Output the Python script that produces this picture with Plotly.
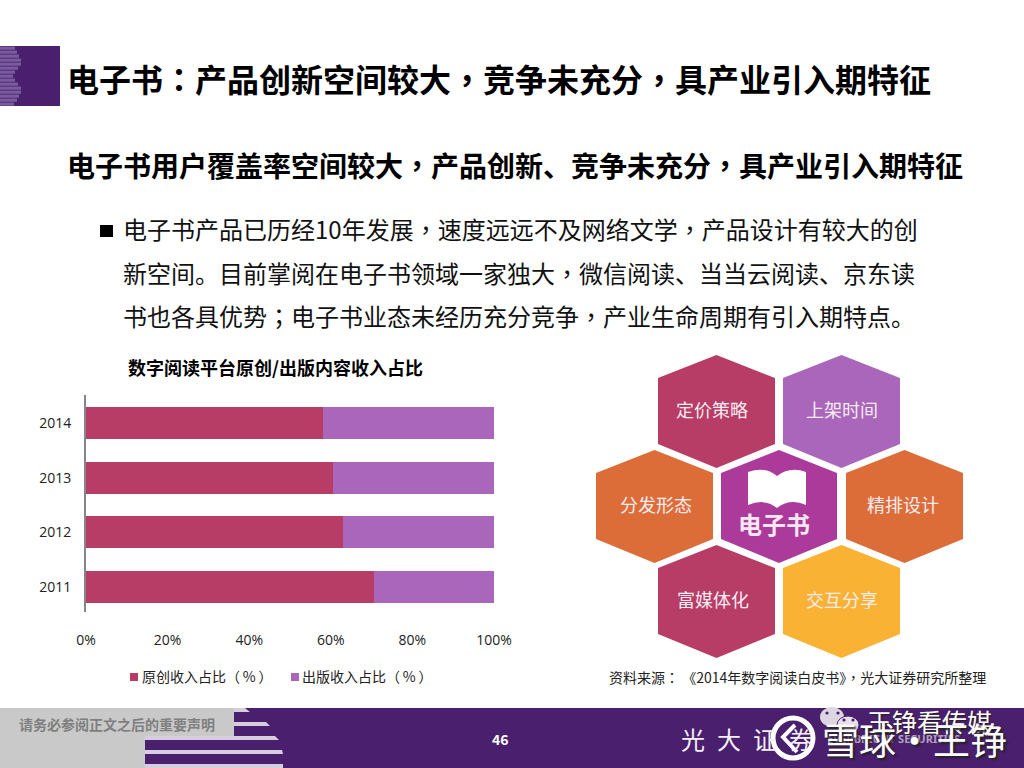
import re
import plotly.graph_objects as go

W, H = 1024, 768
CJK = "Noto Sans CJK SC"
LATIN = "Open Sans, Noto Sans CJK SC"

years = ["2011", "2012", "2013", "2014"]
original = [70.6, 63.0, 60.5, 58.0]
published = [29.4, 37.0, 39.5, 42.0]
series_names = ["原创收入占比（\u2009%\u2009）", "出版收入占比（\u2009%\u2009）"]
x_ticks = [0, 20, 40, 60, 80, 100]
x_tick_labels = ["0%", "20%", "40%", "60%", "80%", "100%"]

title_text = "电子书：产品创新空间较大，竞争未充分，具产业引入期特征"
subtitle_text = "电子书用户覆盖率空间较大，产品创新、竞争未充分，具产业引入期特征"
body_lines = [
    "电子书产品已历经10年发展，速度远远不及网络文学，产品设计有较大的创",
    "新空间。目前掌阅在电子书领域一家独大，微信阅读、当当云阅读、京东读",
    "书也各具优势；电子书业态未经历充分竞争，产业生命周期有引入期特点。",
]
chart_title = "数字阅读平台原创/出版内容收入占比"
source_text = "资料来源：\u00a0《2014年数字阅读白皮书》，光大证券研究所整理"
notice_text = "请务必参阅正文之后的重要声明"

CRIMSON, VIOLET, ORANGE, YELLOW, MAGENTA = "#B73C66", "#A966BB", "#DD6D38", "#F9B233", "#AC3A9A"
PURPLE = "#4A1F6E"
STRIPE = "#D6CEDD"

# label, left, right, top, bottom, colour, label offset from the hexagon centre
hexagons = [
    ("定价策略", 658, 775, 355, 468, CRIMSON, -4.5),
    ("上架时间", 783, 900, 355, 468, VIOLET, 0),
    ("分发形态", 596, 713, 450, 563, ORANGE, 1.5),
    ("", 721, 837, 450, 563, MAGENTA, 0),
    ("精排设计", 846, 963, 450, 563, ORANGE, -1.5),
    ("富媒体化", 658, 775, 545, 658, CRIMSON, -3.5),
    ("交互分享", 783, 900, 545, 658, YELLOW, 0),
]


def px(x):
    return x / W


def py(y):
    return 1 - y / H


def path(points):
    return "M" + " L".join(f"{px(x):.5f},{py(y):.5f}" for x, y in points) + " Z"


def rect(x0, y0, x1, y1, color):
    return dict(type="rect", xref="paper", yref="paper", x0=px(x0), x1=px(x1), y0=py(y1), y1=py(y0),
                fillcolor=color, line_width=0, layer="above")


def poly(points, color):
    return dict(type="path", xref="paper", yref="paper", path=path(points), fillcolor=color,
                line_width=0, layer="above")


def circle(cx, cy, rx, ry, fill, line=None):
    return dict(type="circle", xref="paper", yref="paper", x0=px(cx - rx), x1=px(cx + rx),
                y0=py(cy + ry), y1=py(cy - ry), fillcolor=fill, layer="above",
                line=line or dict(width=0))


def punct(s):
    # Traditional-locale cut centres full-width punctuation in its cell, as the reference does
    return re.sub(r"([：，；])", r'<span style="font-family:Noto Sans CJK TC">\1</span>', s)


def text(x, y, s, size, color="#000000", bold=False, anchor="left", family=CJK, **font_extra):
    s = punct(s)
    # Rendered glyphs sit about 2px right of and below the requested box position
    tx = x - 2 if anchor == "left" else x
    return dict(xref="paper", yref="paper", x=px(tx), y=py(y - 2), text=f"<b>{s}</b>" if bold else s,
                showarrow=False, xanchor=anchor, yanchor="middle", borderpad=0,
                font=dict(family=family, size=size, color=color, **font_extra))


shapes, notes = [], []

# Header block with striped B logo
shapes.append(rect(0, 46, 60, 106, PURPLE))
for y, w in [(46, 15), (50, 17), (54, 19), (58, 21), (62, 21), (66, 18), (70, 15), (74, 13),
             (78, 15), (82, 18), (86, 21), (90, 21), (94, 19), (98, 17), (102, 14)]:
    shapes.append(rect(0, y, w, y + 4, "#5E3B84"))
    shapes.append(rect(0, y + 1, w, y + 3.5, "#7A5C9E"))
notes.append(text(68, 80, title_text, 32, bold=True))
notes.append(text(68, 167, subtitle_text, 28, bold=True))

# Body
shapes.append(rect(100, 225, 113, 237, "#000000"))
for y, line in zip([231, 274, 317], body_lines):
    notes.append(text(124, y, line, 24, color="#111111"))

# Chart title + legend
notes.append(text(275, 369, chart_title, 18, bold=True, anchor="center"))
for sx, tx, color, name in zip([130, 291], [143, 303], [CRIMSON, VIOLET], series_names):
    shapes.append(rect(sx, 673, sx + 8, 681, color))
    notes.append(text(tx, 678, name, 14, color="#222222"))

# Hexagons
for label, l, r, t, b, color, dx in hexagons:
    c = (l + r) / 2
    shapes.append(poly([(c, t), (r, t + 23), (r, b - 24), (c, b), (l, b - 24), (l, t + 23)], color))
    if label:
        notes.append(text(c + dx, (t + b) / 2 - 1, label, 18, color="#F8ECF2", anchor="center"))

# Book icon
shapes.append(dict(type="path", xref="paper", yref="paper", fillcolor="#FFFFFF", line_width=0, layer="above",
                   path=(f"M{px(748)},{py(472)} Q{px(765)},{py(466)} {px(777)},{py(476)} "
                         f"Q{px(790)},{py(466)} {px(806)},{py(472)} L{px(806)},{py(505)} "
                         f"Q{px(790)},{py(498)} {px(777)},{py(508)} Q{px(765)},{py(498)} {px(748)},{py(505)} Z")))
notes.append(text(774, 525, "电子书", 24, color="#F8E6F3", bold=True, anchor="center"))
notes.append(text(610, 679, source_text, 14, color="#222222"))

# Footer
shapes.append(rect(0, 708, W, H, PURPLE))
shapes.append(rect(0, 708, 234, 740, "#C9C9C9"))
shapes.append(rect(0, 740, 145, H, "#C9C9C9"))
for y0, y1, x0, x1, x2 in [(708, 712, 234, 245, 250), (722, 726, 234, 266, 270), (736, 740, 145, 275, 279),
                           (750, 754, 145, 282, 283), (764, 768, 145, 283, 283)]:
    shapes.append(poly([(x0, y0), (x1, y0), (x2, y1), (x0, y1)], STRIPE))
notes.append(text(20, 726, notice_text, 14, color="#7F7F7F", bold=True))
notes.append(text(500, 741, "46", 14, color="#FFFFFF", bold=True, anchor="center"))
notes.append(text(682, 740, "光\u2002大\u2002证\u2002券", 24, color="#F4F0F6"))
notes.append(text(828, 740, "EVERBRIGHT SECURITIES", 11, color="#B0A3BE", bold=True, family="Noto Sans"))
# WeChat mark
shapes.append(circle(832, 717, 12, 10, "#DCD6E2"))
shapes.append(circle(848, 725, 11, 9, "#E6E1EA", dict(color=PURPLE, width=1)))
for ex, ey in [(827, 713), (838, 713), (844, 720), (853, 720)]:
    shapes.append(circle(ex, ey, 1.6, 1.6, PURPLE))
# Round seal
shapes.append(circle(793, 738, 20, 20, "rgba(0,0,0,0)", dict(color="#FFFFFF", width=5)))
shapes.append(dict(type="path", xref="paper", yref="paper", fillcolor="rgba(0,0,0,0)", layer="above",
                   line=dict(color="#FFFFFF", width=4),
                   path=f"M{px(795)},{py(725)} L{px(783)},{py(737)} L{px(797)},{py(752)}"))
notes.append(text(929, 723, "王铮看传媒", 25, color="#FFFFFF", anchor="center", shadow="1px 1px 1px #222222"))
notes.append(text(914, 741, "雪球·王铮", 37, color="#FFFFFF", anchor="center", shadow="2px 2px 2px #222222"))

fig = go.Figure()
for name, values, color in zip(series_names, [original, published], [CRIMSON, VIOLET]):
    fig.add_bar(y=years, x=values, orientation="h", name=name, marker=dict(color=color, line_width=0),
                width=0.59, showlegend=False)

fig.update_layout(
    width=W, height=H, autosize=False, barmode="stack",
    margin=dict(l=0, r=0, t=0, b=0, pad=0),
    paper_bgcolor="#FFFFFF", plot_bgcolor="#FFFFFF",
    font=dict(family=LATIN, size=14, color="#222222"),
    shapes=shapes, annotations=notes,
    xaxis=dict(domain=[px(86), px(494)], range=[0, 100], tickvals=x_ticks, ticktext=x_tick_labels,
               automargin=False, showgrid=False, zeroline=False, showline=False, ticks="", ticklabelstandoff=18,
               tickfont=dict(family=LATIN, size=14)),
    yaxis=dict(domain=[py(612), py(395)], type="category", categoryorder="array", categoryarray=years,
               automargin=False, range=[-0.457, 3.512], showgrid=False, zeroline=False, showline=True,
               linecolor="#868686", linewidth=2, ticks="", ticklabelstandoff=10,
               tickfont=dict(family=LATIN, size=14)),
)

fig.write_html("out.html", config={"displayModeBar": False},
               post_script="document.body.style.margin='0';document.documentElement.style.overflow='hidden';")
